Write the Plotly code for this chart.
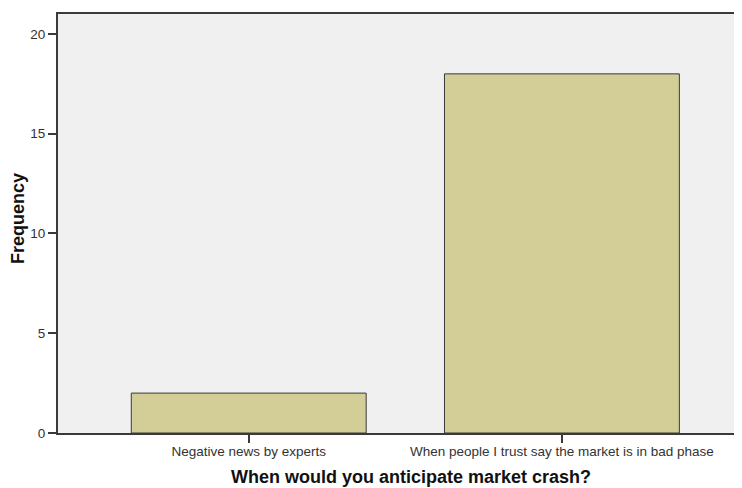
import plotly.graph_objects as go

categories = ["Negative news by experts", "When people I trust say the market is in bad phase"]
frequency = [2, 18]
y_ticks = [0, 5, 10, 15, 20]
x_title = "When would you anticipate market crash?"
y_title = "Frequency"

fig = go.Figure(go.Bar(
    x=categories, y=frequency,
    marker=dict(color="#D3CE97", line=dict(color="#3a3a3a", width=1)),
    width=0.75,
))

# page body has an 8px margin, so the figure is sized to end at the window edge
fig.update_layout(
    width=734, height=480,
    margin=dict(l=50, r=0, t=6, b=55, autoexpand=False),
    paper_bgcolor="white", plot_bgcolor="#F0F0F0",
    font=dict(family="Liberation Sans, Arial, sans-serif", size=13.5, color="#333333"),
    showlegend=False,
    annotations=[
        dict(text="<b>%s</b>" % x_title, xref="paper", yref="paper", x=0.516, y=-0.106,
             xanchor="center", yanchor="middle", showarrow=False,
             font=dict(size=18, color="#111111")),
        dict(text="<b>%s</b>" % y_title, xref="paper", yref="paper", x=-0.0585, y=0.513,
             xanchor="center", yanchor="middle", showarrow=False, textangle=-90,
             font=dict(size=18, color="#111111")),
    ],
)
fig.update_xaxes(
    type="category", range=[-0.609, 1.575], automargin=False,
    showline=True, linecolor="#3a3a3a", linewidth=2, mirror=True,
    ticks="outside", ticklen=8, tickcolor="#3a3a3a", tickwidth=1.5,
    ticklabelstandoff=-3,
    showgrid=False, zeroline=False,
)
fig.update_yaxes(
    range=[0, 21], tickvals=y_ticks, automargin=False,
    showline=True, linecolor="#3a3a3a", linewidth=2,
    ticks="outside", ticklen=8, tickcolor="#3a3a3a", tickwidth=1.5,
    showgrid=False, zeroline=False,
)

fig.write_html("out.html")
